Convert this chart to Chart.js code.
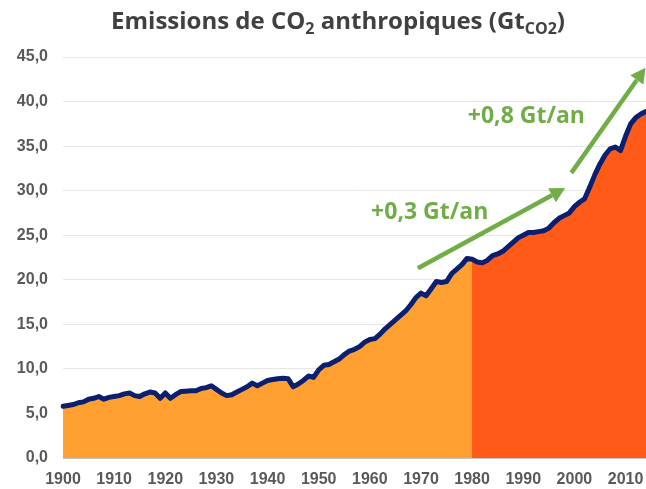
<!DOCTYPE html>
<html lang="fr">
<head>
<meta charset="utf-8">
<title>Emissions de CO2 anthropiques</title>
<script src="https://cdn.jsdelivr.net/npm/chart.js@4.4.1/dist/chart.umd.min.js"></script>
<style>
    body { margin: 0; background: #fff; }
    #wrap { position: relative; width: 646px; height: 489px; }
    #titre {
        position: absolute; top: 3px; left: 30px; right: 0;
        text-align: center; white-space: nowrap;
        font: bold 24px "Open Sans", sans-serif; color: #404040;
    }
    #titre sub { font-size: 16px; vertical-align: -5px; line-height: 0; }
</style>
</head>
<body>
<div id="wrap">
    <canvas id="co2Chart" width="646" height="489"></canvas>
    <div id="titre">Emissions de CO<sub>2</sub> anthropiques (Gt<sub>CO2</sub>)</div>
</div>
<script>
// Emissions annuelles (Gt CO2), une liste par décennie
const premiereAnnee = 1900;
const anneeCharniere = 1980;
const emis1900 = [5.8, 5.9, 6.0, 6.2, 6.3, 6.6, 6.7, 6.9, 6.6, 6.8];
const emis1910 = [6.9, 7.0, 7.2, 7.3, 7.0, 6.9, 7.2, 7.4, 7.3, 6.7];
const emis1920 = [7.3, 6.7, 7.1, 7.45, 7.5, 7.55, 7.55, 7.8, 7.9, 8.1];
const emis1930 = [7.7, 7.3, 7.0, 7.1, 7.4, 7.7, 8.0, 8.4, 8.1, 8.4];
const emis1940 = [8.7, 8.8, 8.9, 8.95, 8.9, 8.0, 8.3, 8.7, 9.2, 9.05];
const emis1950 = [9.9, 10.4, 10.5, 10.8, 11.1, 11.6, 12.0, 12.2, 12.5, 13.0];
const emis1960 = [13.3, 13.4, 13.9, 14.5, 15.0, 15.5, 16.0, 16.5, 17.2, 18.0];
const emis1970 = [18.5, 18.2, 19.0, 19.8, 19.7, 19.8, 20.7, 21.2, 21.7, 22.4];
const emis1980 = [22.3, 22.0, 21.9, 22.2, 22.7, 22.9, 23.2, 23.7, 24.2, 24.7];
const emis1990 = [25.0, 25.3, 25.3, 25.4, 25.5, 25.8, 26.4, 26.9, 27.2, 27.5];
const emis2000 = [28.2, 28.7, 29.1, 30.4, 31.8, 33.0, 34.0, 34.7, 34.9, 34.5];
const emis2010 = [36.1, 37.5, 38.2, 38.6, 38.9];

// Tendances annotées : [année, Gt] début / fin de flèche, et texte
const tendanceLabels = ['+0,3 Gt/an', '+0,8 Gt/an'];
const tendanceDebut = [[1969.4, 21.3], [1999.4, 32.0]];
const tendanceFin = [[1998.2, 30.3], [2013.9, 43.8]];
const tendanceTexte = [[1971.7, 27.6], [1990.6, 38.3]];

const emissions = [].concat(emis1900, emis1910, emis1920, emis1930, emis1940,
    emis1950, emis1960, emis1970, emis1980, emis1990, emis2000, emis2010);
const annees = emissions.map((v, i) => String(premiereAnnee + i));
const idxCharniere = anneeCharniere - premiereAnnee;

// deux zones de remplissage : avant / après 1980
// (la zone "après" démarre un point plus tôt, sous la zone "avant", pour éviter un liseré blanc)
const avant = emissions.map((v, i) => i <= idxCharniere ? v : null);
const apres = emissions.map((v, i) => i >= idxCharniere - 1 ? v : null);

const VERT = '#70AD47';

const tendancesPlugin = {
    id: 'tendances',
    afterDatasetsDraw(chart) {
        const { ctx, scales: { x, y } } = chart;
        const px = a => x.getPixelForValue(a - premiereAnnee);
        ctx.save();
        ctx.strokeStyle = VERT;
        ctx.fillStyle = VERT;
        ctx.lineWidth = 4.5;
        tendanceDebut.forEach((d, i) => {
            const f = tendanceFin[i];
            const x0 = px(d[0]), y0 = y.getPixelForValue(d[1]);
            const x1 = px(f[0]), y1 = y.getPixelForValue(f[1]);
            const ang = Math.atan2(y1 - y0, x1 - x0);
            const tete = 15, demi = 8;
            const bx = x1 - tete * Math.cos(ang), by = y1 - tete * Math.sin(ang);
            ctx.beginPath();
            ctx.moveTo(x0, y0);
            ctx.lineTo(bx, by);
            ctx.stroke();
            ctx.beginPath();
            ctx.moveTo(x1, y1);
            ctx.lineTo(bx + demi * Math.sin(ang), by - demi * Math.cos(ang));
            ctx.lineTo(bx - demi * Math.sin(ang), by + demi * Math.cos(ang));
            ctx.closePath();
            ctx.fill();
        });
        ctx.font = 'bold 23px "Open Sans", sans-serif';
        ctx.textAlign = 'center';
        ctx.textBaseline = 'middle';
        tendanceTexte.forEach((t, i) => {
            ctx.fillText(tendanceLabels[i], px(t[0]), y.getPixelForValue(t[1]));
        });
        ctx.restore();
    }
};

new Chart(document.getElementById('co2Chart'), {
    type: 'line',
    data: {
        labels: annees,
        datasets: [{
            data: emissions,
            borderColor: '#0B1F6E',
            borderWidth: 5,
            borderJoinStyle: 'round',
            borderCapStyle: 'round',
            pointRadius: 0,
            fill: false,
            tension: 0,
            order: 0
        }, {
            data: avant,
            backgroundColor: '#FFA031',
            borderWidth: 0,
            pointRadius: 0,
            fill: 'origin',
            spanGaps: false,
            order: 1
        }, {
            data: apres,
            backgroundColor: '#FF5A17',
            borderWidth: 0,
            pointRadius: 0,
            fill: 'origin',
            spanGaps: false,
            order: 1
        }]
    },
    options: {
        responsive: false,
        animation: false,
        layout: { padding: { top: 57, right: 0, bottom: 0, left: 0 } },
        plugins: {
            legend: { display: false },
            tooltip: { enabled: false },
            title: { display: false }
        },
        scales: {
            x: {
                grid: { display: false, drawTicks: false },
                border: { display: true, color: '#c4c4c4', width: 1, z: 1 },
                ticks: {
                    autoSkip: false,
                    maxRotation: 0,
                    padding: 12,
                    color: '#595959',
                    font: { family: '"Liberation Sans", Arial, sans-serif', size: 16, weight: 'bold' },
                    callback: function (val) {
                        const l = this.getLabelForValue(val);
                        return Number(l) % 10 === 0 ? l : null;
                    }
                },
                afterFit: s => { s.height = 31; s.paddingRight = 0; }
            },
            y: {
                min: 0,
                max: 45,
                border: { display: false },
                grid: { color: '#e6e6e6', lineWidth: 1, drawTicks: false },
                ticks: {
                    stepSize: 5,
                    padding: 15,
                    color: '#595959',
                    font: { family: '"Liberation Sans", Arial, sans-serif', size: 16, weight: 'bold' },
                    callback: v => v.toFixed(1).replace('.', ',')
                },
                afterFit: s => { s.width = 63; }
            }
        }
    },
    plugins: [tendancesPlugin]
});
</script>
</body>
</html>
